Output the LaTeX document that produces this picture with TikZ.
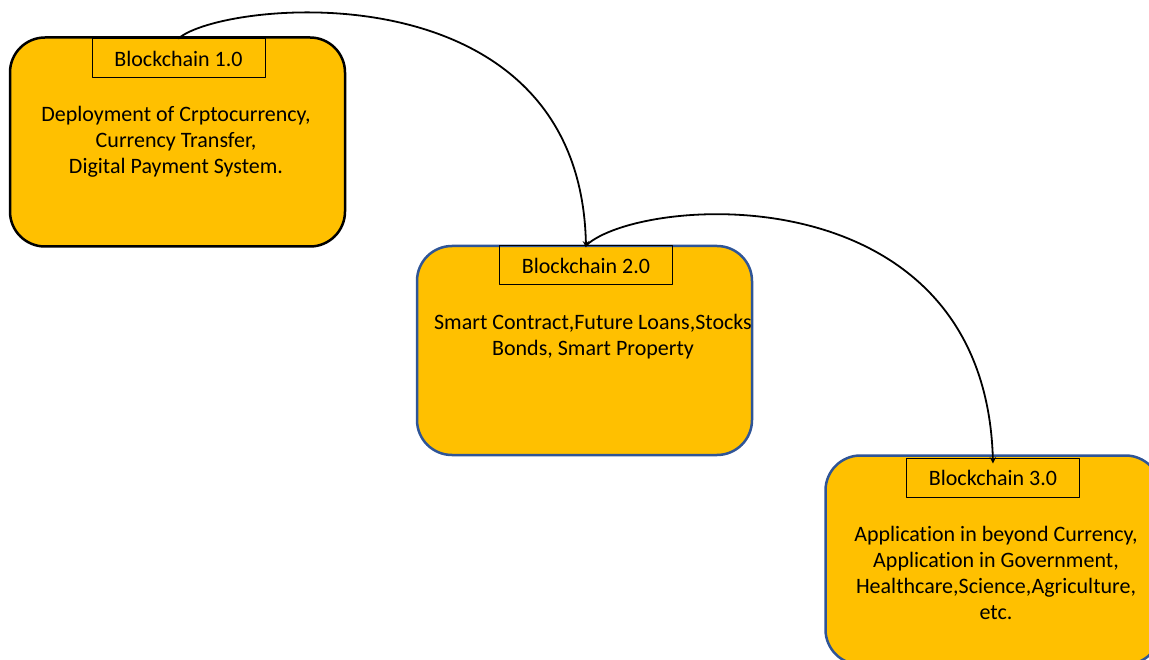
\documentclass[tikz,border=0pt]{standalone}
\usepackage{fontspec}
\setmainfont{Carlito}[RawFeature={-liga;-clig;-calt;-dlig}]
\definecolor{gold}{HTML}{FFC000}
\definecolor{edgeblue}{HTML}{2F5597}
\tikzset{
  era/.style={draw=#1, fill=gold, line width=2.5pt, rounded corners=35pt,
    minimum width=335pt, minimum height=209pt},
  title/.style={draw, line width=1pt, minimum width=173pt, minimum height=39pt, inner sep=0pt},
  body/.style={align=center, inner sep=0pt}
}
\begin{document}
\begin{tikzpicture}[x=1pt, y=-1pt, font=\fontsize{22}{26}\selectfont, line join=round, line cap=round, >=stealth]
	\useasboundingbox (0,0) rectangle (1149,660);
	\clip (0,0) rectangle (1149,660);
	% the three stages
	\node[era=black] (e1) at (177.5,142) {};
	\node[era=edgeblue] (e2) at (584.5,350.5) {};
	\node[era=edgeblue] (e3) at (993,560) {};
	\node[title] (t1) at (178.5,58.5) {Blockchain 1.0};
	\node[title] (t2) at (586,265.5) {Blockchain 2.0};
	\node[title] (t3) at (993,477.5) {Blockchain 3.0};
	\node[body] (b1) at (176,142) {Deployment of Crptocurrency,\\ Currency Transfer,\\ Digital Payment System.};
	\node[body] (b2) at (593,337) {Smart Contract,Future Loans,Stocks\\ Bonds, Smart Property};
	\node[body] (b3) at (996,573) {Application in beyond Currency,\\ Application in Government,\\ Healthcare,Science,Agriculture,\\ etc.};
	% arrows
	\draw[->, line width=1.8pt] (t1.north) .. controls (222,0) and (580,-36) .. ([yshift=-2pt]t2.north);
	\draw[->, line width=1.8pt] (t2.north) .. controls (640,195) and (985,170) .. ([yshift=-6pt]t3.north);
\end{tikzpicture}
\end{document}
